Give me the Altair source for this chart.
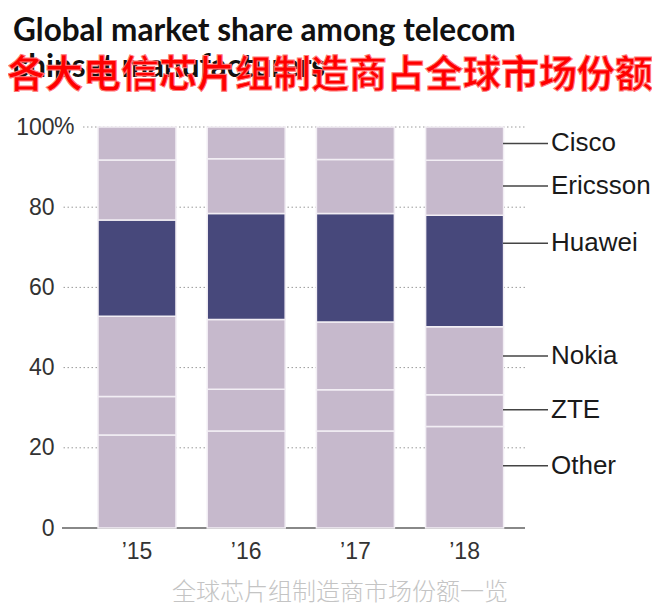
import altair as alt
import pandas as pd

# ---- data ----
years = ["’15", "’16", "’17", "’18"]
companies = ["Other", "ZTE", "Nokia", "Huawei", "Ericsson", "Cisco"]
other = [23.2, 24.2, 24.2, 25.3]
zte = [9.6, 10.4, 10.3, 7.9]
nokia = [20.0, 17.4, 16.9, 17.0]
huawei = [24.0, 26.4, 27.0, 27.8]
ericsson = [15.0, 13.7, 13.5, 13.7]
cisco = [8.2, 7.9, 8.1, 8.3]
label_values = [15.5, 29.5, 42.9, 71.0, 85.3, 95.9]   # where each right-hand label sits
y_ticks = [0, 20, 40, 60, 80, 100]

title_en_1 = "Global market share among telecom"
title_en_2 = "chipset manufacturers"
title_zh = "各大电信芯片组制造商占全球市场份额"
caption = "全球芯片组制造商市场份额一览"

LIGHT = "#c6b9cc"
DARK = "#47487b"
company_colors = [LIGHT, LIGHT, LIGHT, DARK, LIGHT, LIGHT]

series = {"Other": other, "ZTE": zte, "Nokia": nokia, "Huawei": huawei,
          "Ericsson": ericsson, "Cisco": cisco}
rows = []
for ci, c in enumerate(companies):
    for yi, yr in enumerate(years):
        rows.append({"year": yr, "company": c, "share": series[c][yi], "order": ci})
df = pd.DataFrame(rows)
labels_df = pd.DataFrame({"company": companies, "pos": label_values})
grid_df = pd.DataFrame({"v": [t for t in y_ticks if 0 < t < 100]})
top_df = pd.DataFrame({"v": [y_ticks[-1]]})

W, H = 463, 401
FONT = "Liberation Sans"
TFONT = "Lato"

yscale = alt.Scale(domain=[0, 100], nice=False)
xscale = alt.Scale(domain=years, paddingInner=0.286, paddingOuter=0.263, align=0.627)

grid = alt.Chart(grid_df).mark_rule(color="#9a9a9a", strokeWidth=1, strokeDash=[1.5, 2.5]).encode(
    y=alt.Y("v:Q", scale=yscale)
)
grid_top = alt.Chart(top_df).mark_rule(color="#9a9a9a", strokeWidth=1, strokeDash=[1.5, 2.5]).encode(
    y=alt.Y("v:Q", scale=yscale), x=alt.value(21), x2=alt.value(W)
)
baseline = alt.Chart(top_df).mark_rule(color="#888888", strokeWidth=2).encode(
    y=alt.datum(0)
)

bars = alt.Chart(df).mark_bar(stroke="#f2eef4", strokeWidth=1.5).encode(
    x=alt.X("year:N", scale=xscale, sort=years,
            axis=alt.Axis(title=None, domain=False, ticks=False, labelAngle=0,
                          labelFont=FONT, labelFontSize=23, labelColor="#333333",
                          labelPadding=12)),
    y=alt.Y("share:Q", stack="zero", scale=yscale,
            axis=alt.Axis(title=None, domain=False, ticks=False, grid=False,
                          values=y_ticks, labelFont=FONT, labelFontSize=23,
                          labelColor="#333333", labelPadding=8,
                          labelExpr="datum.label")),
    color=alt.Color("company:N", scale=alt.Scale(domain=companies, range=company_colors), legend=None),
    order=alt.Order("order:Q"),
)

pct = alt.Chart(top_df).mark_text(align="left", baseline="middle", font=FONT, fontSize=23,
                                  color="#333333").encode(
    y=alt.Y("v:Q", scale=yscale), x=alt.value(-8), text=alt.value("%")
)

leaders = alt.Chart(labels_df).mark_rule(color="#444444", strokeWidth=1.5).encode(
    y=alt.Y("pos:Q", scale=yscale), x=alt.value(441), x2=alt.value(486)
)
labels = alt.Chart(labels_df).mark_text(align="left", baseline="middle", font=FONT,
                                        fontSize=26, color="#1a1a1a").encode(
    y=alt.Y("pos:Q", scale=yscale), x=alt.value(489), text="company:N"
)

def txt(s, x, y, **kw):
    return alt.Chart(pd.DataFrame({"t": [s]})).mark_text(**kw).encode(
        text="t:N", x=alt.value(x), y=alt.value(y))

t1 = txt(title_en_1, -49, -86, align="left", baseline="alphabetic",
         font=TFONT, fontSize=31.5, fontWeight="bold", color="#111111")
t2 = txt(title_en_2, -49, -50, align="left", baseline="alphabetic",
         font=TFONT, fontSize=31.5, fontWeight="bold", color="#111111")
tzh = txt(title_zh, 268, -51, align="center", baseline="middle",
          font="Noto Sans CJK SC", fontSize=38, fontWeight="bold", color="#ff0000",
          stroke="#ff7a7a", strokeWidth=1)
cap = txt(caption, 278, 466, align="center", baseline="middle",
          font="Noto Sans CJK SC", fontSize=24, fontWeight=300, color="#c4c4c4")

chart = alt.layer(grid, grid_top, baseline, bars, pct, leaders, labels, t1, t2, tzh, cap).properties(
    width=W, height=H,
    autosize=alt.AutoSizeParams(type="none"),
    padding={"left": 54, "top": 119, "right": 127, "bottom": 82},
).configure_view(stroke=None)

chart.save("out.html", embed_options={"renderer": "svg", "actions": False})
